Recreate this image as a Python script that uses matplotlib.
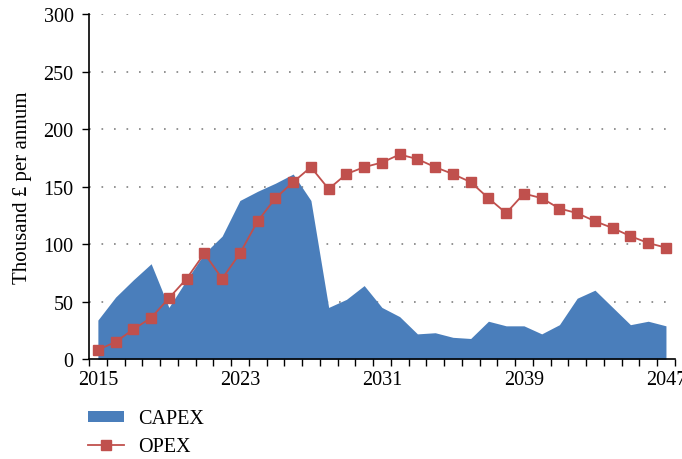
import matplotlib
matplotlib.use("Agg")
import matplotlib.pyplot as plt
import numpy as np

plt.rcParams['font.family'] = ['Liberation Serif', 'DejaVu Serif']

years = list(range(2015, 2048))

capex = [34, 54, 69, 83, 45, 69, 92, 107, 138, 146, 153, 161, 138,
         45, 52, 64, 45, 37, 22, 23, 19, 18, 33, 29, 29, 22, 30,
         53, 60, 45, 30, 33, 29]

opex = [8, 15, 26, 36, 53, 70, 92, 70, 92, 120, 140, 154, 167,
        148, 161, 167, 171, 178, 174, 167, 161, 154, 140, 127, 144,
        140, 131, 127, 120, 114, 107, 101, 97]

xtick_labels = ['2015', '2023', '2031', '2039', '2047']

blue = '#4A7EBB'
red = '#C0504D'


def main():
    fig = plt.figure(figsize=(6.82, 4.6), dpi=100)
    ax = fig.add_axes([0.1305, 0.217, 0.859, 0.750])

    x = np.array(years)
    ax.fill_between(x, 0, capex, color=blue, lw=0, label='CAPEX')
    ax.plot(x, opex, color=red, lw=1.3, marker='s', markersize=7.5,
            label='OPEX', zorder=3)

    ax.set_xlim(years[0] - 0.5, years[-1] + 0.5)
    ax.set_ylim(0, 300)
    ax.set_yticks(np.arange(0, 301, 50))

    # category-style axis: ticks between years, labels on every 8th year
    ax.set_xticks(np.arange(years[0] - 0.5, years[-1] + 1, 1.0))
    ax.set_xticklabels([])
    ax.set_xticks([int(s) for s in xtick_labels], minor=True)
    ax.set_xticklabels(xtick_labels, minor=True)
    ax.tick_params(axis='x', which='major', length=5, width=1, direction='out')
    ax.tick_params(axis='x', which='minor', length=0, pad=8, labelsize=14.5)
    ax.tick_params(axis='y', length=5, width=1, direction='out', pad=6,
                   labelsize=14.5)

    for v in range(50, 301, 50):
        ax.axhline(v, color='#808080', lw=1.2, ls=(0, (1, 6.5)), zorder=0)

    for s in ['top', 'right']:
        ax.spines[s].set_visible(False)
    ax.spines['left'].set_linewidth(1.2)
    ax.spines['bottom'].set_linewidth(1.2)

    ax.set_ylabel('Thousand £ per annum', fontsize=15)
    ax.yaxis.set_label_coords(-0.098, 0.5)

    handles, labels = ax.get_legend_handles_labels()
    fig.legend(handles, labels, loc='upper left', bbox_to_anchor=(0.129, 0.108),
               frameon=False, fontsize=14.5, handlelength=1.8, handleheight=0.45,
               labelspacing=0.45, handletextpad=0.7, borderaxespad=0,
               borderpad=0)

    fig.savefig('out.png', dpi=100)


if __name__ == '__main__':
    main()
